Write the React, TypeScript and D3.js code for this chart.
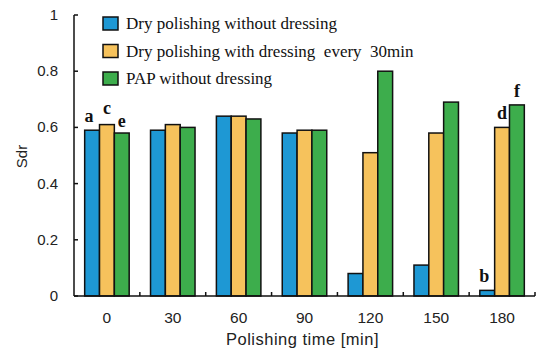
import React, {useEffect, useRef} from 'react';
import * as d3 from 'd3';

const categories = ['0', '30', '60', '90', '120', '150', '180'];
const seriesNames = [
    'Dry polishing without dressing',
    'Dry polishing with dressing  every  30min',
    'PAP without dressing'
];
const seriesColors = ['#1e98d4', '#f6c25c', '#3dad4c'];
const dryNoDress = [0.59, 0.59, 0.64, 0.58, 0.08, 0.11, 0.02];
const dryDress = [0.61, 0.61, 0.64, 0.59, 0.51, 0.58, 0.60];
const papNoDress = [0.58, 0.60, 0.63, 0.59, 0.80, 0.69, 0.68];
const yTicks = [0, 0.2, 0.4, 0.6, 0.8, 1];
// letter annotations: [category index, series index, letter]
const annotations: [number, number, string][] = [
    [0, 0, 'a'], [0, 1, 'c'], [0, 2, 'e'],
    [6, 0, 'b'], [6, 1, 'd'], [6, 2, 'f']
];

export default function App() {
    const svgRef = useRef<SVGSVGElement>(null);

    useEffect(() => {
        const W = 537, H = 354;
        const margin = {top: 15, right: 2, bottom: 58, left: 74};
        const width = W - margin.left - margin.right;
        const height = H - margin.top - margin.bottom;
        const series = [dryNoDress, dryDress, papNoDress];

        const root = d3.select(svgRef.current);
        root.selectAll('*').remove();
        root.attr('width', W).attr('height', H);

        const svg = root.append('g')
            .attr('transform', `translate(${margin.left},${margin.top})`);

        const x = d3.scaleBand().domain(categories).range([0, width]).paddingInner(0).paddingOuter(0);
        const xs = d3.scaleBand().domain(['0', '1', '2']).range([0, x.bandwidth()])
            .paddingOuter(0.72).paddingInner(0);
        const y = d3.scaleLinear().domain([0, 1]).range([height, 0]);

        // bars
        categories.forEach((c, ci) => {
            series.forEach((s, si) => {
                svg.append('rect')
                    .attr('x', x(c)! + xs(String(si))!)
                    .attr('y', y(s[ci]))
                    .attr('width', xs.bandwidth())
                    .attr('height', height - y(s[ci]))
                    .attr('fill', seriesColors[si])
                    .attr('stroke', '#111')
                    .attr('stroke-width', 1.5);
            });
        });

        // annotations
        annotations.forEach(([ci, si, t]) => {
            const bx = x(categories[ci])! + xs(String(si))! + xs.bandwidth() / 2;
            const dy = t === 'c' ? -11 : (t === 'e' ? -6 : -8);
            svg.append('text')
                .attr('x', bx - (si === 0 ? 3 : 0))
                .attr('y', y(series[si][ci]) + dy)
                .attr('text-anchor', 'middle')
                .attr('font-family', '"Liberation Serif", serif')
                .attr('font-weight', 'bold')
                .attr('font-size', '18px')
                .attr('fill', '#111')
                .text(t);
        });

        // y axis
        svg.append('line')
            .attr('x1', 0).attr('x2', 0).attr('y1', 0).attr('y2', height)
            .attr('stroke', '#111').attr('stroke-width', 1.5);
        yTicks.forEach(t => {
            svg.append('line')
                .attr('x1', 0).attr('x2', 4).attr('y1', y(t)).attr('y2', y(t))
                .attr('stroke', '#111').attr('stroke-width', 1.5);
            svg.append('text')
                .attr('x', -16)
                .attr('y', y(t) + 5)
                .attr('text-anchor', 'end')
                .attr('font-family', '"Liberation Sans", Arial, sans-serif')
                .attr('font-size', '15px')
                .attr('fill', '#222')
                .text(String(t));
        });

        // x axis
        svg.append('line')
            .attr('x1', 0).attr('x2', width).attr('y1', height).attr('y2', height)
            .attr('stroke', '#111').attr('stroke-width', 1.5);
        categories.forEach((c, i) => {
            const bx = x(c)! + x.bandwidth();
            svg.append('line')
                .attr('x1', bx).attr('x2', bx).attr('y1', height).attr('y2', height - 4)
                .attr('stroke', '#111').attr('stroke-width', 1.5);
            svg.append('text')
                .attr('x', x(c)! + x.bandwidth() / 2)
                .attr('y', height + 27)
                .attr('text-anchor', 'middle')
                .attr('font-family', '"Liberation Sans", Arial, sans-serif')
                .attr('font-size', '15.5px')
                .attr('fill', '#222')
                .text(c);
        });

        svg.append('text')
            .attr('x', width / 2 - 2)
            .attr('y', height + 49)
            .attr('text-anchor', 'middle')
            .attr('font-family', '"Liberation Sans", Arial, sans-serif')
            .attr('font-size', '16.5px')
            .attr('letter-spacing', '0.5px')
            .attr('fill', '#222')
            .text('Polishing time [min]');

        svg.append('text')
            .attr('transform', `translate(${-47},${height / 2 + 1}) rotate(-90)`)
            .attr('text-anchor', 'middle')
            .attr('font-family', '"Liberation Sans", Arial, sans-serif')
            .attr('font-size', '15px')
            .attr('fill', '#222')
            .text('Sdr');

        // legend
        const legend = svg.append('g').attr('transform', 'translate(29,2)');
        seriesNames.forEach((n, i) => {
            const g = legend.append('g').attr('transform', `translate(0,${i * 27.5})`);
            g.append('rect')
                .attr('x', 0).attr('y', 0).attr('width', 15).attr('height', 13)
                .attr('fill', seriesColors[i])
                .attr('stroke', '#111').attr('stroke-width', 1.5);
            g.append('text')
                .attr('x', 23)
                .attr('y', 12)
                .attr('font-family', '"Liberation Serif", "Times New Roman", serif')
                .attr('font-size', '17px')
                .attr('fill', '#111')
                .attr('xml:space', 'preserve')
                .style('white-space', 'pre')
                .text(n);
        });
    }, []);

    return (
        <div style={{position: 'absolute', left: 0, top: 0, background: '#fff'}}>
            <svg ref={svgRef} style={{display: 'block'}}></svg>
        </div>
    );
}
